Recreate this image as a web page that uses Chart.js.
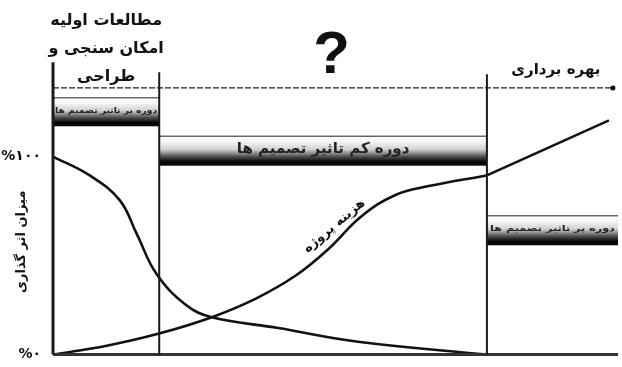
<!DOCTYPE html>
<html><head><meta charset="utf-8">
<script src="https://cdn.jsdelivr.net/npm/chart.js@4"></script>
<style>html,body{margin:0;padding:0;background:#fff;}#wrap{width:622px;height:367px;position:relative;}</style>
</head><body><div id="wrap"><canvas id="c"></canvas></div>
<script>
// ---- data (x: project timeline 0..100, y: percent) ----
const influenceX = [0, 6.5, 11.8, 14.8, 18.3, 23.6, 28.1, 39.9, 54.0, 76.8];
const influenceY = [100, 90.5, 78.0, 61.1, 40.8, 24.9, 18.9, 13.4, 6.5, 0];
const costX = [0, 9.5, 18.6, 28.1, 35.9, 42.9, 48.7, 54.5, 60.5, 66.3, 76.8];
const costY = [0, 4.5, 10.5, 18.9, 28.3, 39.8, 53.2, 69.6, 80.5, 85.0, 90.5];
const operationX = [76.8, 98.4];
const operationY = [90.5, 118.3];
const phaseX = [0, 18.8, 76.8];
const phaseTop = [147.6, 142.6, 141.6];
const timelineX = [0, 99.1];
const timelineY = 134.7;
const yTicks = [0, 100];
const yTickLabels = ['%۰', '%۱۰۰'];
const bandLabels = ['دوره پر تاثیر تصمیم ها', 'دوره کم تاثیر تصمیم ها', 'دوره پر تاثیر تصمیم ها'];
const bandStart = [0, 18.8, 76.8];
const bandEnd = [18.8, 76.8, 100];
const bandTop = [129.7, 110.3, 70.1];
const bandBottom = [115.3, 95.4, 55.2];
const phaseTitles = [['مطالعات اولیه', 'امکان سنجی و', 'طراحی'], ['?'], ['بهره برداری']];
const yTitle = 'میزان اثر گذاری';
const curveLabel = 'هزینه پروژه';

const pts = (xs, ys) => xs.map((x, i) => ({x, y: ys[i]}));
const FA = '"DejaVu Sans", "Noto Sans", sans-serif';

const datasets = [];
phaseX.forEach((px, i) => datasets.push({
  data: [{x: px, y: 0}, {x: px, y: phaseTop[i]}],
  borderColor: '#1a1a1a', borderWidth: i === 0 ? 3 : 2, pointRadius: 0, tension: 0
}));
datasets.push({
  data: [{x: 0, y: 0}, {x: 100, y: 0}],
  borderColor: '#333', borderWidth: 3, pointRadius: 0, tension: 0
});
datasets.push({
  data: pts(timelineX, [timelineY, timelineY]),
  borderColor: '#222', borderWidth: 1.3, borderDash: [6, 2],
  pointRadius: [0, 2.5], pointBackgroundColor: '#111', pointBorderWidth: 0, tension: 0
});
datasets.push({
  data: pts(influenceX, influenceY), borderColor: '#111', borderWidth: 2.6,
  pointRadius: 0, tension: 0.4
});
datasets.push({
  data: pts(costX, costY), borderColor: '#111', borderWidth: 2.6,
  pointRadius: 0, tension: 0.4
});
datasets.push({
  data: pts(operationX, operationY), borderColor: '#111', borderWidth: 2.4,
  pointRadius: 0, tension: 0
});

const bandsPlugin = {
  id: 'bands',
  beforeDatasetsDraw(chart) {
    const {ctx, scales: {x, y}} = chart;
    bandLabels.forEach((lab, i) => {
      const x0 = x.getPixelForValue(bandStart[i]), x1 = x.getPixelForValue(bandEnd[i]);
      const t = y.getPixelForValue(bandTop[i]), b = y.getPixelForValue(bandBottom[i]);
      const g = ctx.createLinearGradient(0, t, 0, b);
      g.addColorStop(0, '#ffffff');
      g.addColorStop(0.2, '#f4f4f4');
      g.addColorStop(0.45, '#d0d0d0');
      g.addColorStop(0.7, '#4a4a4a');
      g.addColorStop(0.88, '#000');
      g.addColorStop(1, '#111');
      ctx.save();
      ctx.fillStyle = g;
      ctx.fillRect(x0, t, x1 - x0, b - t);
      ctx.strokeStyle = '#666'; ctx.lineWidth = 1.5;
      ctx.beginPath(); ctx.moveTo(x0, t); ctx.lineTo(x1, t); ctx.stroke();
      ctx.fillStyle = '#222';
      ctx.textAlign = 'center'; ctx.textBaseline = 'middle';
      ctx.direction = 'rtl';
      const big = i === 1;
      ctx.font = (big ? 'bold 15px ' : 'bold 8px ') + FA;
      const cx = (x0 + x1) / 2, cy = t + (b - t) * 0.45;
      if (!big) {
        const w = ctx.measureText(lab).width;
        const sx = Math.min(1.4, (x1 - x0 - 4) / w);
        ctx.translate(cx, cy); ctx.scale(sx, 1); ctx.fillText(lab, 0, 0);
      } else {
        ctx.fillText(lab, cx, cy);
      }
      ctx.restore();
    });
  },
  afterDatasetsDraw(chart) {
    const {ctx, scales: {x, y}} = chart;
    ctx.save();
    ctx.fillStyle = '#111';
    ctx.textAlign = 'center'; ctx.textBaseline = 'middle';
    ctx.direction = 'rtl';
    const c1 = (x.getPixelForValue(phaseX[0]) + x.getPixelForValue(phaseX[1])) / 2;
    ctx.font = 'bold 16px ' + FA;
    phaseTitles[0].forEach((s, k) => ctx.fillText(s, c1, 21 + k * 28));
    ctx.direction = 'ltr';
    ctx.font = 'bold 60px "Liberation Sans", sans-serif';
    ctx.fillText(phaseTitles[1][0], x.getPixelForValue(49.3), 56);
    ctx.direction = 'rtl';
    ctx.font = 'bold 15px ' + FA;
    ctx.fillText(phaseTitles[2][0], x.getPixelForValue(89), 70);
    ctx.save();
    ctx.translate(x.getPixelForValue(49.8), y.getPixelForValue(65));
    ctx.rotate(-40 * Math.PI / 180);
    ctx.font = 'bold 13px ' + FA;
    ctx.fillText(curveLabel, 0, 0);
    ctx.restore();
    ctx.save();
    ctx.translate(22, y.getPixelForValue(57));
    ctx.rotate(-Math.PI / 2);
    ctx.font = 'bold 13px ' + FA;
    ctx.fillText(yTitle, 0, 0);
    ctx.restore();
    ctx.restore();
  }
};

new Chart(document.getElementById('c'), {
  type: 'line',
  data: {datasets},
  options: {
    responsive: true, maintainAspectRatio: false, animation: false,
    layout: {padding: {top: 18, bottom: 7, left: 0, right: 0}},
    datasets: {line: {clip: false, fill: false}},
    plugins: {legend: {display: false}, tooltip: {enabled: false}},
    scales: {
      x: {type: 'linear', min: 0, max: 100, display: false},
      y: {
        type: 'linear', min: 0, max: 170,
        afterBuildTicks: s => { s.ticks = yTicks.map(v => ({value: v})); },
        afterFit: s => { s.width = 53; },
        grid: {display: false}, border: {display: false},
        ticks: {
          padding: 4, color: '#111',
          font: {family: 'DejaVu Sans', size: 14, weight: 'bold'},
          callback: v => yTickLabels[yTicks.indexOf(v)]
        }
      }
    }
  },
  plugins: [bandsPlugin]
});
</script></body></html>
